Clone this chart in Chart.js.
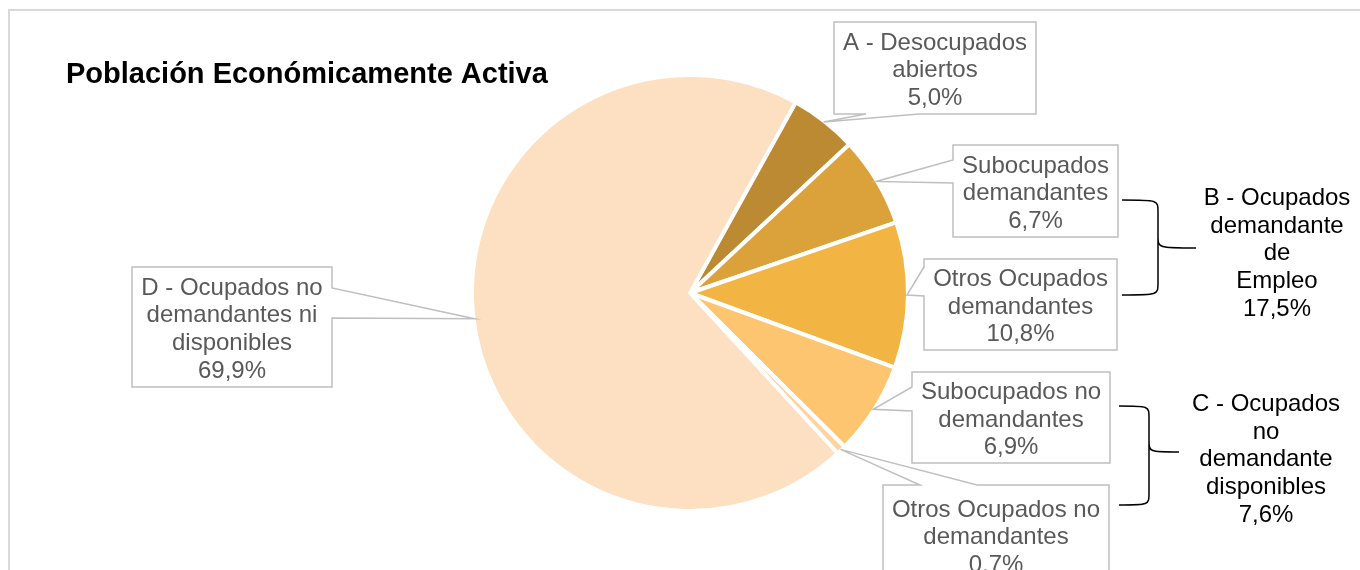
<!DOCTYPE html>
<html>
<head>
<meta charset="utf-8">
<script src="https://cdn.jsdelivr.net/npm/chart.js@4"></script>
<style>
  html, body { margin: 0; padding: 0; background: #fff; }
  #wrap { width: 1360px; height: 570px; position: relative; }
</style>
</head>
<body>
<div id="wrap"><canvas id="pea" width="1360" height="570"></canvas></div>
<script>
// data
const chartTitle = "Población Económicamente Activa";
const categories = [
    "A - Desocupados abiertos",
    "Subocupados demandantes",
    "Otros Ocupados demandantes",
    "Subocupados no demandantes",
    "Otros Ocupados no demandantes",
    "D - Ocupados no demandantes ni disponibles"
];
const labelLines = [
    ["A - Desocupados", "abiertos"],
    ["Subocupados", "demandantes"],
    ["Otros Ocupados", "demandantes"],
    ["Subocupados no", "demandantes"],
    ["Otros Ocupados no", "demandantes"],
    ["D - Ocupados no", "demandantes ni", "disponibles"]
];
const shares = [5.0, 6.7, 10.8, 6.9, 0.7, 69.9];
const sliceColors = ["#BD8A34", "#DBA23C", "#F2B544", "#FDC570", "#FDD3A0", "#FDDFC1"];

const groupLines = [
    ["B - Ocupados", "demandante", "de", "Empleo"],
    ["C - Ocupados", "no", "demandante", "disponibles"]
];
const groupShares = [17.5, 7.6];

// callout boxes: rect + which edge the pointer leaves from
const callouts = [
    {x: 834, y: 22, w: 202, h: 92, edge: "bottom", a: 866, b: 919},
    {x: 953, y: 145, w: 165, h: 92, edge: "left", a: 160, b: 183},
    {x: 924, y: 259, w: 193, h: 91, edge: "left", a: 267, b: 296},
    {x: 912, y: 372, w: 198, h: 91, edge: "left", a: 387, b: 411},
    {x: 883, y: 485, w: 226, h: 100, edge: "top", a: 920, b: 977},
    {x: 132, y: 267, w: 200, h: 120, edge: "right", a: 288, b: 318}
];
const braces = [
    {x0: 1122, xv: 1158, xt: 1196, y0: 200, ym: 248, y1: 295, tx: 1277, ty: 197},
    {x0: 1119, xv: 1149, xt: 1179, y0: 406, ym: 452, y1: 505, tx: 1266, ty: 403}
];

function fmtPct(v) {
    return v.toFixed(1).replace(".", ",") + "%";
}

function calloutPath(ctx, c, tip) {
    const r = c.x + c.w, bt = c.y + c.h;
    ctx.beginPath();
    if (c.edge === "bottom") {
        ctx.moveTo(c.x, c.y); ctx.lineTo(r, c.y); ctx.lineTo(r, bt);
        ctx.lineTo(c.b, bt); ctx.lineTo(tip.x, tip.y); ctx.lineTo(c.a, bt);
        ctx.lineTo(c.x, bt);
    } else if (c.edge === "left") {
        ctx.moveTo(c.x, c.y); ctx.lineTo(r, c.y); ctx.lineTo(r, bt);
        ctx.lineTo(c.x, bt); ctx.lineTo(c.x, c.b); ctx.lineTo(tip.x, tip.y);
        ctx.lineTo(c.x, c.a);
    } else if (c.edge === "top") {
        ctx.moveTo(c.x, c.y); ctx.lineTo(c.a, c.y); ctx.lineTo(tip.x, tip.y);
        ctx.lineTo(c.b, c.y); ctx.lineTo(r, c.y); ctx.lineTo(r, bt);
        ctx.lineTo(c.x, bt);
    } else {
        ctx.moveTo(c.x, c.y); ctx.lineTo(r, c.y); ctx.lineTo(r, c.a);
        ctx.lineTo(tip.x, tip.y); ctx.lineTo(r, c.b); ctx.lineTo(r, bt);
        ctx.lineTo(c.x, bt);
    }
    ctx.closePath();
}

const decorPlugin = {
    id: "decor",
    beforeDraw(chart) {
        const ctx = chart.ctx;
        ctx.save();
        ctx.fillStyle = "#ffffff";
        ctx.fillRect(0, 0, chart.width, chart.height);
        ctx.strokeStyle = "#D9D9D9";
        ctx.lineWidth = 2;
        ctx.beginPath();
        ctx.moveTo(9, 600);
        ctx.lineTo(9, 10);
        ctx.lineTo(1400, 10);
        ctx.stroke();
        ctx.fillStyle = "#000000";
        ctx.font = "bold 29px 'Liberation Sans', Arial, sans-serif";
        ctx.textBaseline = "alphabetic";
        ctx.textAlign = "left";
        ctx.fillText(chartTitle, 66, 83);
        ctx.restore();
    },
    afterDraw(chart) {
        const ctx = chart.ctx;
        const arcs = chart.getDatasetMeta(0).data;
        ctx.save();
        ctx.font = "24px 'Liberation Sans', Arial, sans-serif";
        ctx.textAlign = "center";
        ctx.textBaseline = "middle";
        arcs.forEach((arc, i) => {
            const p = arc.getProps(["x", "y", "startAngle", "endAngle", "outerRadius"], true);
            const mid = (p.startAngle + p.endAngle) / 2;
            const tip = {
                x: p.x + Math.cos(mid) * (p.outerRadius - 1),
                y: p.y + Math.sin(mid) * (p.outerRadius - 1)
            };
            const c = callouts[i];
            calloutPath(ctx, c, tip);
            ctx.fillStyle = "#ffffff";
            ctx.fill();
            ctx.strokeStyle = "#BFBFBF";
            ctx.lineWidth = 1.5;
            ctx.stroke();
            const lines = labelLines[i].concat([fmtPct(shares[i])]);
            const lh = 27.6;
            const cy = c.y + c.h / 2 - (lines.length - 1) * lh / 2 + 2.5;
            ctx.fillStyle = "#595959";
            lines.forEach((t, k) => ctx.fillText(t, c.x + c.w / 2, cy + k * lh));
        });

        // group braces
        ctx.strokeStyle = "#000000";
        ctx.lineWidth = 1.5;
        braces.forEach((br, i) => {
            const k = 12;
            ctx.beginPath();
            ctx.moveTo(br.x0, br.y0);
            ctx.bezierCurveTo(br.xv, br.y0, br.xv, br.y0, br.xv, br.y0 + k);
            ctx.lineTo(br.xv, br.ym - k);
            ctx.bezierCurveTo(br.xv, br.ym, br.xv, br.ym, br.xt, br.ym);
            ctx.moveTo(br.xv, br.ym - k);
            ctx.bezierCurveTo(br.xv, br.ym, br.xv, br.ym, br.xv, br.ym + k);
            ctx.lineTo(br.xv, br.y1 - k);
            ctx.bezierCurveTo(br.xv, br.y1, br.xv, br.y1, br.x0, br.y1);
            ctx.stroke();
            const lines = groupLines[i].concat([fmtPct(groupShares[i])]);
            ctx.fillStyle = "#000000";
            lines.forEach((t, j) => ctx.fillText(t, br.tx, br.ty + 1.5 + j * 27.6));
        });
        ctx.restore();
    }
};

new Chart(document.getElementById("pea"), {
    type: "pie",
    data: {
        labels: categories,
        datasets: [{
            data: shares,
            backgroundColor: sliceColors,
            borderColor: "#ffffff",
            borderWidth: 4
        }]
    },
    options: {
        responsive: false,
        animation: false,
        rotation: 29,
        layout: {padding: {left: 470, right: 450, top: 73, bottom: 57}},
        plugins: {
            legend: {display: false},
            tooltip: {enabled: false}
        }
    },
    plugins: [decorPlugin]
});
</script>
</body>
</html>
